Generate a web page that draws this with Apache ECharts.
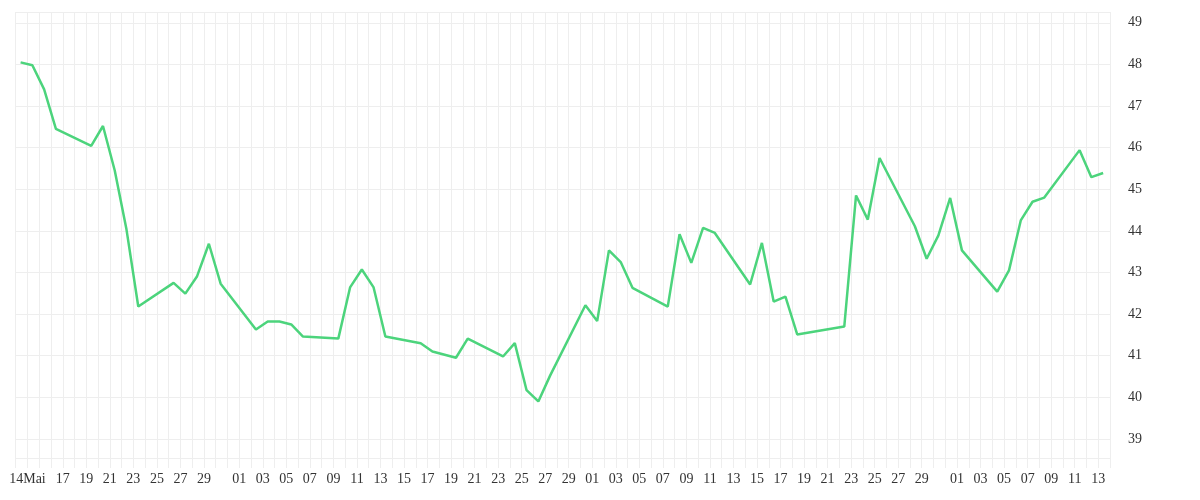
<!DOCTYPE html>
<html><head><meta charset="utf-8">
<script src="https://cdn.jsdelivr.net/npm/echarts@6/dist/echarts.min.js"></script>
<style>html,body{margin:0;padding:0;background:#fff}#c{width:1200px;height:500px}</style>
</head><body><div id="c"></div>
<script>
var axisStart = '2025-05-13T00:00Z';
var axisEnd = '2025-08-14T00:00Z';
var dates = ['05-13','05-14','05-15','05-16','05-19','05-20','05-21','05-22','05-23','05-26','05-27','05-28','05-29','05-30',
 '06-02','06-03','06-04','06-05','06-06','06-09','06-10','06-11','06-12','06-13','06-16','06-17','06-19','06-20','06-23','06-24','06-25','06-26','06-27','06-30',
 '07-01','07-02','07-03','07-04','07-07','07-08','07-09','07-10','07-11','07-14','07-15','07-16','07-17','07-18','07-22','07-23','07-24','07-25','07-28','07-29','07-30','07-31',
 '08-01','08-04','08-05','08-06','08-07','08-08','08-11','08-12','08-13'];
var values = [48.05,47.98,47.40,46.45,46.04,46.52,45.45,44.03,42.18,42.75,42.49,42.91,43.69,42.73,
 41.63,41.82,41.82,41.75,41.46,41.41,42.64,43.07,42.64,41.46,41.30,41.10,40.95,41.41,40.98,41.30,40.17,39.90,40.52,42.21,
 41.83,43.53,43.25,42.63,42.18,43.92,43.23,44.07,43.95,42.71,43.71,42.30,42.42,41.51,41.70,44.85,44.27,45.75,44.11,43.33,43.89,44.79,
 43.53,42.54,43.05,44.25,44.70,44.80,45.94,45.29,45.39];
var pointTime = 'T10:00Z';
var monthNames = ['Jan','Feb','Mär','Apr','Mai','Jun','Jul','Aug','Sep','Okt','Nov','Dez'];
var yMin = 38.54, yMax = 49.26;

var t0 = Date.parse(axisStart), DAY = 86400000;
var tEnd = (Date.parse(axisEnd) - t0) / DAY;
var data = dates.map(function(d,i){ return [(Date.parse('2025-'+d+pointTime)-t0)/DAY, values[i]]; });
function dayLabel(v){
  var d = new Date(t0 + Math.round(v)*DAY), dd = d.getUTCDate(), m = d.getUTCMonth();
  if (m === 4 && dd === 14) return '14' + monthNames[m];
  if (m === 4 && dd < 17) return '';
  if (dd % 2 === 1 && dd !== 31) return (dd < 10 ? '0' : '') + dd;
  return '';
}
var chart = echarts.init(document.getElementById('c'));
chart.setOption({
  animation:false,
  grid:{left:15.7,right:90,top:12,bottom:42},
  xAxis:{type:'value',min:0,max:tEnd,interval:1,
    axisLine:{show:false},
    axisTick:{show:true,length:10,lineStyle:{color:'#eeeeee'}},
    splitLine:{show:true,lineStyle:{color:'#eeeeee'}},
    axisLabel:{formatter:dayLabel,color:'#333',fontFamily:'Liberation Serif',fontSize:14,margin:14,showMinLabel:true,showMaxLabel:true,hideOverlap:false}},
  yAxis:{type:'value',position:'right',min:yMin,max:yMax,splitNumber:10,
    axisLine:{show:false},axisTick:{show:false},
    splitLine:{show:true,lineStyle:{color:'#eeeeee'}},
    axisLabel:{formatter:function(v){return Math.abs(v-Math.round(v))<1e-6?String(Math.round(v)):'';},
      color:'#333',fontFamily:'Liberation Serif',fontSize:14,margin:18}},
  series:[{type:'line',data:data,showSymbol:false,lineStyle:{color:'#4cd47c',width:2.5}}]
});
</script></body></html>
